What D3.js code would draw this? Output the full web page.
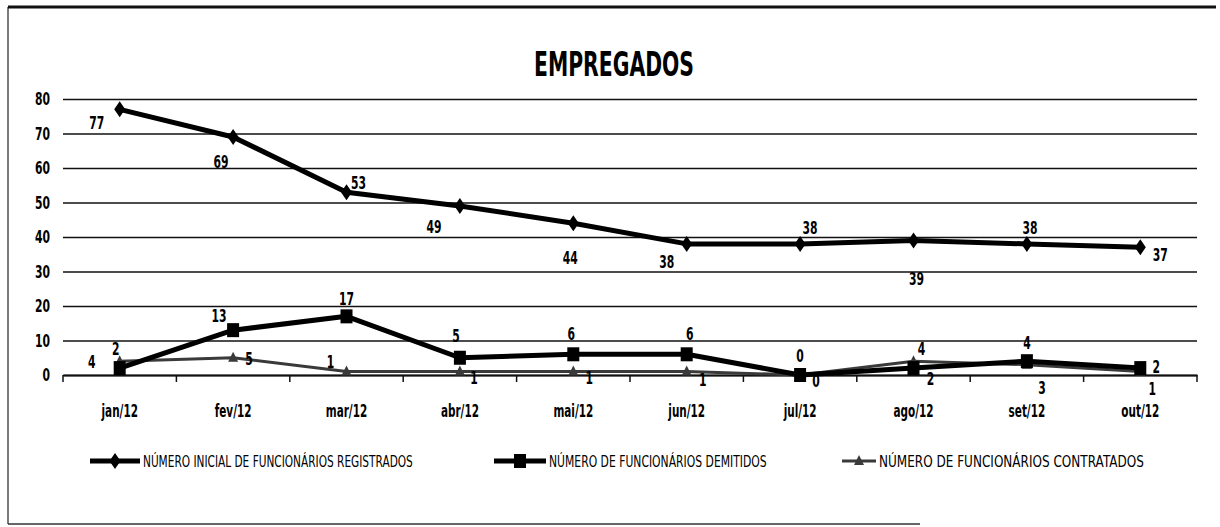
<!DOCTYPE html>
<html>
<head>
<meta charset="utf-8">
<script src="https://cdn.jsdelivr.net/npm/d3@7"></script>
<style>
  html, body { margin: 0; padding: 0; background: #fff; }
  svg { display: block; }
  text { font-family: "DejaVu Sans", sans-serif; fill: #000; }
</style>
</head>
<body>
<svg id="chart" width="1220" height="527"></svg>
<script>
// Months shown on the horizontal axis
const months = ["jan/12", "fev/12", "mar/12", "abr/12", "mai/12", "jun/12", "jul/12", "ago/12", "set/12", "out/12"];

// Employees registered at the start of each month
const registrados = [77, 69, 53, 49, 44, 38, 38, 39, 38, 37];
// Employees dismissed in each month
const demitidos = [2, 13, 17, 5, 6, 6, 0, 2, 4, 2];
// Employees hired in each month
const contratados = [4, 5, 1, 1, 1, 1, 0, 4, 3, 1];

// Value-axis ticks
const yTicks = [0, 10, 20, 30, 40, 50, 60, 70, 80];

const seriesNames = [
  "NÚMERO INICIAL DE FUNCIONÁRIOS REGISTRADOS",
  "NÚMERO DE FUNCIONÁRIOS DEMITIDOS",
  "NÚMERO DE FUNCIONÁRIOS CONTRATADOS"
];

// Hand-placed nudges for each data label, relative to its point
const nudgeRegistrados = [[-23, 13], [-12, 25], [12, -10], [-26, 21], [-3, 34], [-20, 18], [10, -16], [3, 38], [3, -16], [20, 7]];
const nudgeDemitidos = [[-4, -20], [-14, -15], [0, -18], [-4, -22], [-2, -21], [3, -21], [0, -20], [17, 10], [0, -19], [16, -2]];
const nudgeContratados = [[-28, 0], [16, 1], [-16, -10], [14, 6], [16, 6], [16, 8], [16, 5], [8, -13], [15, 23], [12, 17]];

const svg = d3.select("#chart");
const plot = { left: 63, right: 1197, top: 99, bottom: 375 };

// Narrow the glyphs of a text selection horizontally
function condense(sel, factor) {
  sel.each(function () {
    const len = this.getComputedTextLength();
    d3.select(this).attr("textLength", len * factor).attr("lengthAdjust", "spacingAndGlyphs");
  });
}

// Outer frame (left, top and bottom edges)
svg.append("line").attr("x1", 8).attr("x2", 8).attr("y1", 7).attr("y2", 524)
  .attr("stroke", "#222").attr("stroke-width", 1.2);
svg.append("line").attr("x1", 8).attr("x2", 920).attr("y1", 524).attr("y2", 524)
  .attr("stroke", "#333").attr("stroke-width", 1.5);
svg.append("line").attr("x1", 8).attr("x2", 1216).attr("y1", 7).attr("y2", 7)
  .attr("stroke", "#111").attr("stroke-width", 3);

// Title
svg.append("text")
  .attr("x", 614).attr("y", 76)
  .attr("text-anchor", "middle")
  .attr("font-size", 34).attr("font-weight", "bold")
  .attr("textLength", 160).attr("lengthAdjust", "spacingAndGlyphs")
  .text("EMPREGADOS");

const x = d3.scaleBand().domain(months).range([plot.left, plot.right]).padding(0);
const cx = m => x(m) + x.bandwidth() / 2;
const y = d3.scaleLinear().domain([0, 80]).range([plot.bottom, plot.top]);

// Horizontal gridlines with value labels
const yAxis = d3.axisLeft(y).tickValues(yTicks).tickSize(-(plot.right - plot.left)).tickPadding(13);
const gy = svg.append("g").attr("transform", `translate(${plot.left},0)`).call(yAxis);
gy.select(".domain").remove();
gy.selectAll(".tick line").attr("stroke", "#111").attr("stroke-width", 1.6);
gy.selectAll(".tick text")
  .attr("font-size", 18).attr("font-weight", "bold")
  .attr("font-family", "DejaVu Sans, sans-serif")
  .call(condense, 0.6);

// Category axis with tick marks between months
const gx = svg.append("g").attr("transform", `translate(0,${plot.bottom})`)
  .call(d3.axisBottom(x).tickSize(0).tickPadding(29));
gx.select(".domain").attr("stroke", "#111").attr("stroke-width", 1.8);
gx.selectAll(".tick text")
  .attr("font-size", 18).attr("font-weight", "bold")
  .attr("font-family", "DejaVu Sans, sans-serif")
  .call(condense, 0.58);
const boundaries = months.map(m => x(m)).concat([plot.right]);
svg.append("g").selectAll("line").data(boundaries).join("line")
  .attr("x1", d => d).attr("x2", d => d)
  .attr("y1", plot.bottom).attr("y2", plot.bottom + 7)
  .attr("stroke", "#111").attr("stroke-width", 1.5);

const line = d3.line().x((d, i) => cx(months[i])).y(d => y(d));

const series = [
  { name: seriesNames[0], values: registrados, nudge: nudgeRegistrados, color: "#000", width: 5, marker: "diamond" },
  { name: seriesNames[1], values: demitidos, nudge: nudgeDemitidos, color: "#000", width: 5, marker: "square" },
  { name: seriesNames[2], values: contratados, nudge: nudgeContratados, color: "#3a3a3a", width: 3, marker: "triangle" }
];

function drawMarker(g, kind, px, py, color) {
  if (kind === "diamond") {
    g.append("path").attr("d", `M${px},${py - 8}L${px + 5.5},${py}L${px},${py + 8}L${px - 5.5},${py}Z`).attr("fill", color);
  } else if (kind === "square") {
    g.append("rect").attr("x", px - 6).attr("y", py - 7).attr("width", 12).attr("height", 14).attr("fill", color);
  } else {
    g.append("path").attr("d", `M${px},${py - 6}L${px + 5},${py + 4}L${px - 5},${py + 4}Z`).attr("fill", color);
  }
}

// Draw series back to front so the thin line sits below
[series[2], series[1], series[0]].forEach(s => {
  const g = svg.append("g");
  g.append("path").datum(s.values)
    .attr("d", line).attr("fill", "none")
    .attr("stroke", s.color).attr("stroke-width", s.width)
    .attr("stroke-linejoin", "round");
  s.values.forEach((v, i) => drawMarker(g, s.marker, cx(months[i]), y(v), s.color));
});

// Data labels
series.forEach(s => {
  svg.append("g").selectAll("text").data(s.values).join("text")
    .attr("x", (d, i) => cx(months[i]) + s.nudge[i][0])
    .attr("y", (d, i) => y(d) + s.nudge[i][1])
    .attr("text-anchor", "middle").attr("dominant-baseline", "central")
    .attr("font-size", 18).attr("font-weight", "bold")
    .text(d => d)
    .call(condense, 0.6);
});

// Legend: entries are narrowed with a horizontal scale so each fits its slot
const legendX = [90, 494, 842];
const legendW = [50, 52, 34];
const legendTextW = [270, 218, 265];
const legendY = 461;
series.forEach((s, i) => {
  const g = svg.append("g");
  g.append("line")
    .attr("x1", legendX[i]).attr("x2", legendX[i] + legendW[i])
    .attr("y1", legendY).attr("y2", legendY)
    .attr("stroke", s.color).attr("stroke-width", s.width);
  drawMarker(g, s.marker, legendX[i] + legendW[i] / 2, legendY, s.color);
  const t = g.append("text")
    .attr("x", 0).attr("y", 0)
    .attr("dominant-baseline", "central")
    .attr("font-size", 16)
    .text(s.name);
  const natural = t.node().getComputedTextLength();
  t.attr("transform", `translate(${legendX[i] + legendW[i] + 3},${legendY}) scale(${legendTextW[i] / natural},1)`);
});
</script>
</body>
</html>
